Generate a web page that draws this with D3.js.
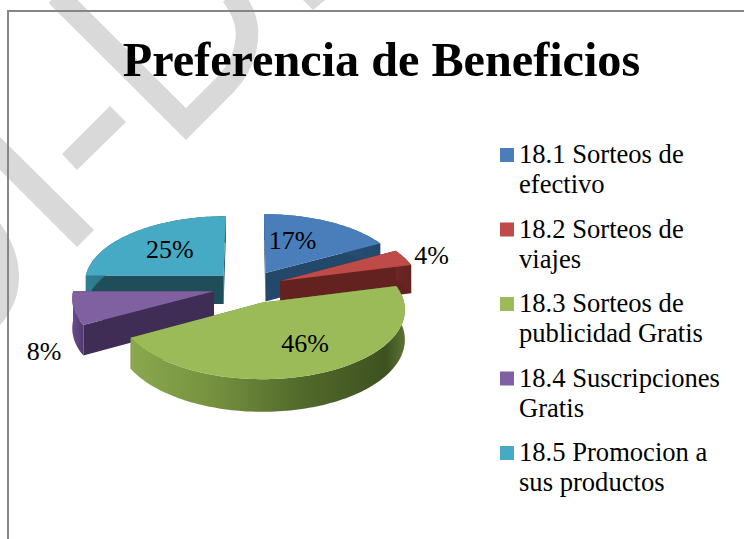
<!DOCTYPE html>
<html><head><meta charset="utf-8">
<style>html,body{margin:0;padding:0;background:#fff}svg{display:block}text{font-family:"Liberation Serif",serif;fill:#000}</style>
<script src="https://d3js.org/d3.v7.min.js"></script></head>
<body><svg id="c" width="744" height="539"></svg>
<script>
const title = "Preferencia de Beneficios";
const categories = [["18.1 Sorteos de","efectivo"],["18.2 Sorteos de","viajes"],["18.3 Sorteos de","publicidad Gratis"],["18.4 Suscripciones","Gratis"],["18.5 Promocion a","sus productos"]];
const values = [17,4,46,8,25];
const topColors = ["#4a7ebb","#be4b48","#9bbb59","#7f60a0","#46aac4"];
const wallColors = ["#23486a","#632220","#55702d","#3f2d56","#1f4d5a"];
const outerStops = [["#2f5f8f","#23486a"],["#6e2725","#632220"],["#8aa84e","#55702d"],["#6a4c8c","#523a70"],["#2f7f94","#1f4d5a"]];
const drawOrder = [0,4,1,3,2];
const labelNudgeX = [-11,7,11,-5,0];
const labelNudgeY = [-2,1,1,40,-1];

const svg = d3.select("#c");
// watermark
const wm = svg.append("g").attr("fill","#d9d9d9");
wm.append("path").attr("d","M56.5,-5 L186,124 L225,85 Q247,62 247,33 Q247,15 232,-5").attr("fill","none").attr("stroke","#d9d9d9").attr("stroke-width",22.5);
wm.append("path").attr("d","M303,0 L325,0 L313,10 Z");
wm.append("path").attr("d","M110,106 L126,122 L77,170 L62,154 Z");
wm.append("path").attr("d","M0,137 L94,230 L77,247 L0,170 Z");
wm.append("path").attr("d","M0,223 C12,240 19,258 19,277 C19,295 12,312 0,325 Z");
// frame
svg.append("path").attr("d","M8,539 L8,11 L744,11").attr("fill","none").attr("stroke","#868686").attr("stroke-width",2);

svg.append("text").attr("x",381.5).attr("y",76).attr("text-anchor","middle").attr("font-size",48.2).attr("font-weight","bold").text(title);

// 3D pie model
const cx=248, cy=287, R=140, tilt=0.475, persp=0.09, explode=35, depth=29;
const project=(u,v,z)=>{const s=1/(1-persp*v/R);return [cx+u*s, cy+tilt*v*s+z*depth*s];};
const pts=(off,r,a,z)=>project(off[0]+r*Math.sin(a),off[1]-r*Math.cos(a),z);
const arcs=d3.pie().sort(null).value(d=>d)(values);
const line=d3.line();
const defs=svg.append("defs");
const pieG=svg.append("g");

drawOrder.forEach(i=>{
  const d=arcs[i], mid=(d.startAngle+d.endAngle)/2;
  const off=[explode*Math.sin(mid),-explode*Math.cos(mid)];
  const n=Math.max(8,Math.round((d.endAngle-d.startAngle)*40));
  const angles=d3.range(n+1).map(j=>d.startAngle+(d.endAngle-d.startAngle)*j/n);
  const apex0=project(off[0],off[1],0), apex1=project(off[0],off[1],1);
  const rim0=angles.map(a=>pts(off,R,a,0)), rim1=angles.map(a=>pts(off,R,a,1));
  const g=pieG.append("g");
  // radial walls
  [0,n].forEach(k=>{
    g.append("path").attr("d",line([apex0,rim0[k],rim1[k],apex1])+"Z").attr("fill",wallColors[i]);
  });
  // outer wall
  const xs=rim0.map(p=>p[0]);
  const id="wall"+i;
  const grad=defs.append("linearGradient").attr("id",id).attr("gradientUnits","userSpaceOnUse")
    .attr("x1",d3.min(xs)).attr("x2",d3.max(xs)).attr("y1",0).attr("y2",0);
  if(i===2){
    [[0,"#8aa84e"],[.3,"#75913f"],[.62,"#526a2b"],[.93,"#3e5120"],[1,"#5a7432"]].forEach(s=>grad.append("stop").attr("offset",s[0]).attr("stop-color",s[1]));
  } else {
    outerStops[i].forEach((c,j)=>grad.append("stop").attr("offset",j).attr("stop-color",c));
  }
  g.append("path").attr("d",line(rim0.concat(rim1.slice().reverse()))+"Z").attr("fill","url(#"+id+")");
  // top face
  g.append("path").attr("d",line([apex0].concat(rim0))+"Z").attr("fill",topColors[i]);
});

// data labels
const labelAt=(d,i)=>{
  const mid=(d.startAngle+d.endAngle)/2;
  const outside=d.value<10;
  const off=[explode*Math.sin(mid),-explode*Math.cos(mid)];
  const r=outside?R*1.17:R*0.58;
  const p=pts(off,r,mid,0);
  return [p[0]+labelNudgeX[i],p[1]+labelNudgeY[i]];
};
svg.append("g").selectAll("text").data(arcs).join("text")
  .attr("x",(d,i)=>labelAt(d,i)[0]).attr("y",(d,i)=>labelAt(d,i)[1]+9)
  .attr("text-anchor","middle").attr("font-size",26)
  .text(d=>d.value+"%");

// legend
const ly=d3.scalePoint().domain(d3.range(categories.length)).range([163,461]);
const lg=svg.append("g").selectAll("g").data(categories).join("g").attr("transform",(d,i)=>`translate(500,${ly(i)})`);
lg.append("rect").attr("y",-15).attr("width",14).attr("height",14).attr("fill",(d,i)=>topColors[i]);
lg.append("text").attr("font-size",26.6).selectAll("tspan").data(d=>d).join("tspan")
  .attr("x",19).attr("y",(d,i)=>i*30).text(d=>d);
</script></body></html>
